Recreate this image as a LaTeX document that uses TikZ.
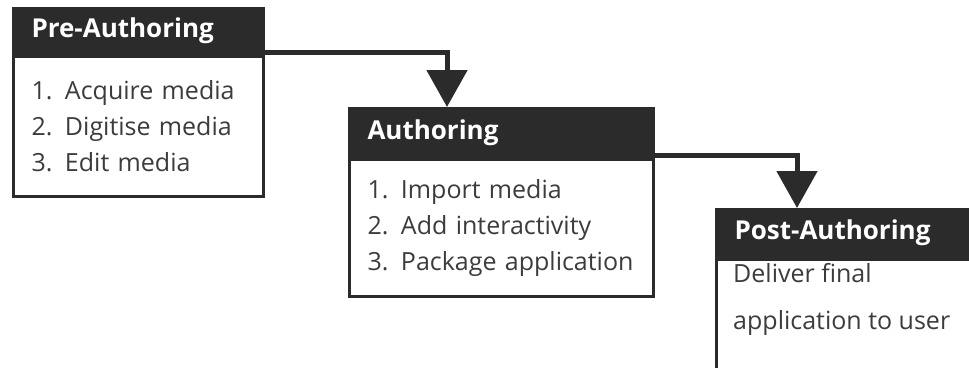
\documentclass[tikz,border=0pt]{standalone}
\usepackage{fontspec}
\setmainfont{Open Sans}
\usetikzlibrary{arrows.meta,positioning}
\definecolor{hdrgray}{HTML}{2B2B2B}
\definecolor{txtgray}{HTML}{3C3C3C}

\tikzset{
  hdr/.style={fill=hdrgray, draw=hdrgray, line width=3pt, text=white, anchor=north west,
    inner xsep=18pt, align=left, font=\fontsize{26}{32}\selectfont\bfseries},
  body/.style={draw=hdrgray, line width=3pt, fill=white, text=txtgray, anchor=north,
    inner xsep=18pt, align=left, font=\fontsize{25}{36}\selectfont},
  conn/.style={draw=hdrgray, line width=5pt, -{Triangle[width=40pt,length=37pt]}},
}

\begin{document}
\begin{tikzpicture}[x=1pt, y=-1pt]
    \useasboundingbox (0,0) rectangle (969,367);
    \clip (0,0) rectangle (969,367);

    % Pre-Authoring
    \node[hdr, text width=214pt, minimum height=45pt] (pre) at (12,7) {Pre-Authoring};
    \node[body, text width=214pt, minimum height=140pt] (prebody) at (pre.south)
        {1. Acquire media\\2. Digitise media\\3. Edit media};

    % Authoring
    \node[hdr, text width=268pt, minimum height=48pt] (auth) at (348,107) {Authoring};
    \node[body, text width=268pt, minimum height=137pt] (authbody) at (auth.south)
        {1. Import media\\2. Add interactivity\\3. Package application};

    % Post-Authoring (runs off the page)
    \node[hdr, text width=300pt, minimum height=47pt] (post) at (715,208) {Post-Authoring};
    \node[body, text width=300pt, minimum height=200pt] (postbody) at (post.south) {};
    \node[anchor=north west, inner sep=0pt, align=left, text=txtgray,
        font=\fontsize{25}{47}\selectfont] (posttext) at (733,263)
        {Deliver final\\application to user};

    % connectors
    \draw[conn] ([yshift=3pt]pre.south east) -| ([xshift=99pt]auth.north west);
    \draw[conn] ([yshift=3pt]auth.south east) -| ([xshift=82pt]post.north west);
\end{tikzpicture}
\end{document}
